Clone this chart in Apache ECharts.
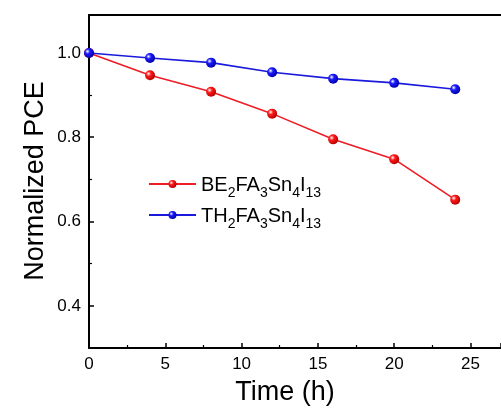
<!DOCTYPE html>
<html><head><meta charset="utf-8">
<script src="https://cdn.jsdelivr.net/npm/echarts@6/dist/echarts.min.js"></script>
<style>html,body{margin:0;padding:0;background:#fff}#c{width:501px;height:412px}</style>
</head><body><div id="c"></div>
<script>
const times = [0, 4, 8, 12, 16, 20, 24];
const beValues = [1.0, 0.947, 0.908, 0.856, 0.795, 0.748, 0.652];
const thValues = [1.0, 0.988, 0.977, 0.954, 0.939, 0.929, 0.914];
const seriesNames = ['BE2FA3Sn4I13', 'TH2FA3Sn4I13'];
const yMajorTicks = [0.4, 0.6, 0.8, 1.0];
const yMinorTicks = [0.5, 0.7, 0.9];
const xTitle = 'Time (h)';
const yTitle = 'Normalized PCE';

const font = '"Liberation Sans", Arial, sans-serif';
function ball(c, dark) {
  return {type:'radial', x:0.35, y:0.35, r:0.7, colorStops:[{offset:0,color:'#ffffff'},{offset:0.35,color:c},{offset:1,color:dark}]};
}
const chart = echarts.init(document.getElementById('c'));
const lineSt = {show:true, onZero:false, lineStyle:{color:'#000', width:2}};
chart.setOption({
  animation:false,
  backgroundColor:'#fff',
  grid:{left:89, right:-18, top:15, bottom:64, containLabel:false},
  xAxis:[
    {type:'value', min:0, max:27, interval:5, position:'bottom', axisLine:lineSt,
      axisTick:{show:true, inside:true, length:5, lineStyle:{color:'#000', width:1.5}},
      minorTick:{show:true, splitNumber:2, length:3, lineStyle:{color:'#000', width:1.2}},
      splitLine:{show:false},
      axisLabel:{color:'#000', fontSize:17, fontFamily:font, margin:8, showMaxLabel:false}},
    {type:'value', min:0, max:27, interval:5, position:'top', axisLine:lineSt,
      axisTick:{show:false}, axisLabel:{show:false}, splitLine:{show:false}}
  ],
  yAxis:[
    {type:'value', min:0.3, max:1.09, position:'left', axisLine:lineSt,
      axisTick:{show:true, inside:true, length:5, customValues:yMajorTicks, lineStyle:{color:'#000', width:1.5}},
      splitLine:{show:false},
      axisLabel:{color:'#000', fontSize:17, fontFamily:font, margin:8, customValues:yMajorTicks,
        formatter:v=>v.toFixed(1)}},
    {type:'value', min:0.3, max:1.09, position:'left', axisLine:{show:false},
      axisTick:{show:true, inside:true, length:3, customValues:yMinorTicks, lineStyle:{color:'#000', width:1.2}},
      splitLine:{show:false}, axisLabel:{show:false}}
  ],
  legend:{
    orient:'vertical', left:143, top:170, itemWidth:47, itemHeight:10, itemGap:6,
    data:seriesNames,
    formatter: n => n.match(/([A-Za-z]+)(\d+)/g).map(s=>{const m=s.match(/([A-Za-z]+)(\d+)/); return '{n|'+m[1]+'}{s|'+m[2]+'}';}).join(''),
    textStyle:{color:'#000', fontFamily:font, fontSize:20,
      rich:{n:{fontSize:20, fontFamily:font, color:'#000', verticalAlign:'bottom', lineHeight:22},
            s:{fontSize:14, fontFamily:font, color:'#000', verticalAlign:'bottom', lineHeight:22, padding:[0,0,-5,0]}}}
  },
  graphic:[
    {type:'text', x:285, y:393, style:{text:xTitle, font:'27px '+font, fill:'#000', textAlign:'center', textVerticalAlign:'middle'}},
    {type:'text', x:36, y:181, rotation:Math.PI/2, style:{text:yTitle, font:'27px '+font, fill:'#000', textAlign:'center', textVerticalAlign:'middle'}}
  ],
  series:[
    {name:seriesNames[0], type:'line', data:times.map((t,i)=>[t,beValues[i]]), symbol:'circle', symbolSize:10,
     lineStyle:{color:'#ee1c24', width:1.6}, itemStyle:{color:ball('#ff1a1a','#b00000'), borderWidth:0}, color:'#ee1c24'},
    {name:seriesNames[1], type:'line', data:times.map((t,i)=>[t,thValues[i]]), symbol:'circle', symbolSize:10,
     lineStyle:{color:'#1a1adc', width:1.6}, itemStyle:{color:ball('#1a1aff','#0000a0'), borderWidth:0}, color:'#1a1adc'}
  ]
});
</script></body></html>
